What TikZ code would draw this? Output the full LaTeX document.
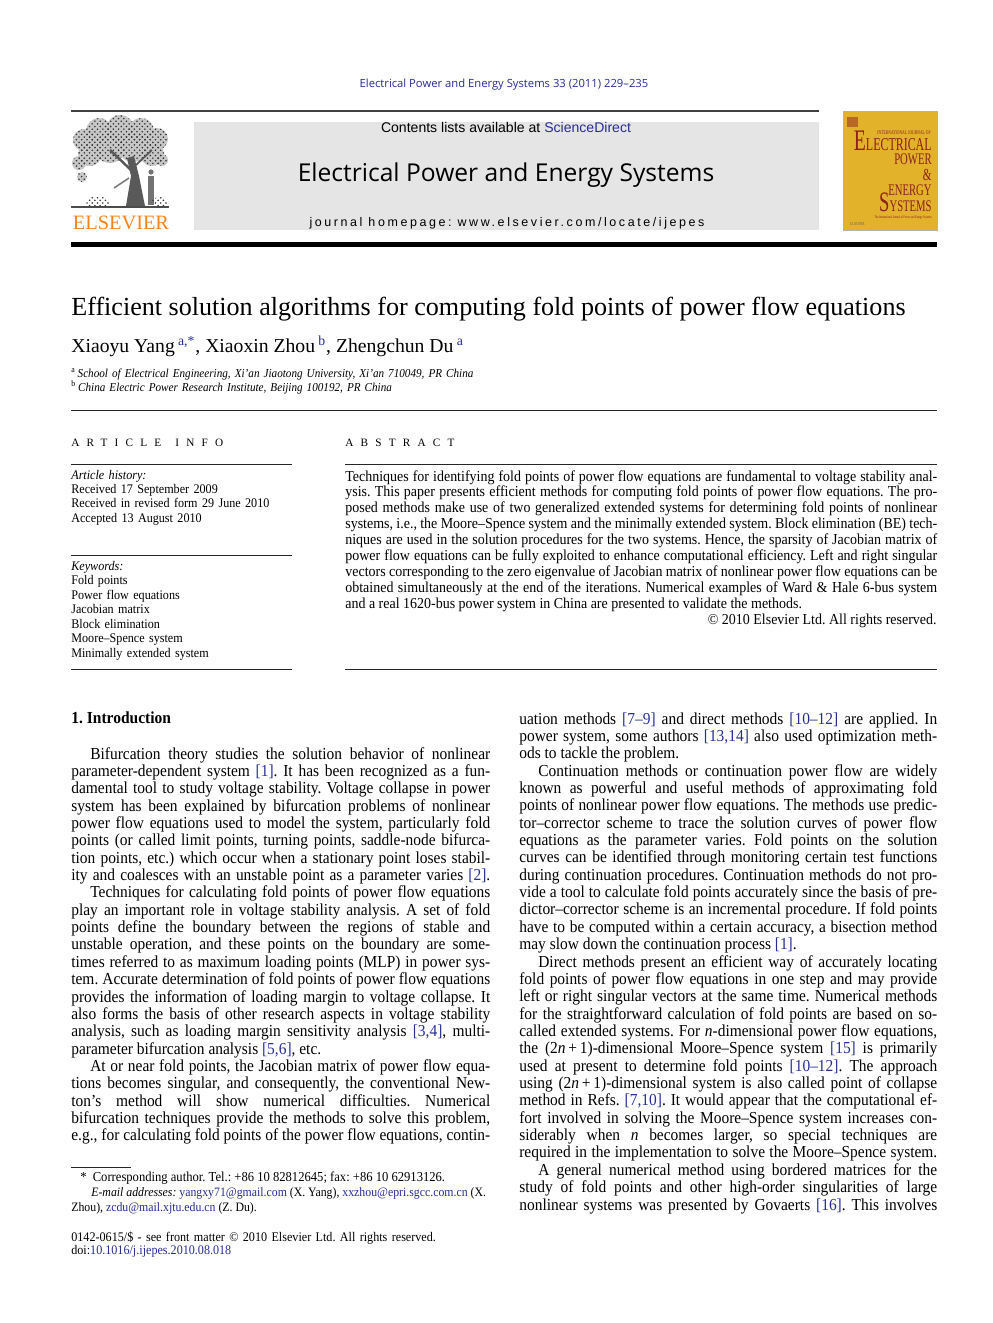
\documentclass[tikz,border=0pt]{standalone}
\usepackage{fontspec}
\setmainfont{Liberation Serif}
\newfontfamily\bodyfont[FakeStretch=0.92]{Liberation Serif}
\newfontfamily\coverfont[FakeStretch=0.66]{Liberation Serif}
\newfontfamily\spacedserif[LetterSpace=64]{Liberation Serif}
\newfontfamily\jsans{Open Sans}
\newfontfamily\hsans{Liberation Sans}
\newfontfamily\hsanswide[LetterSpace=20.7]{Liberation Sans}
\usetikzlibrary{patterns}

\definecolor{linkblue}{RGB}{40,45,150}
\definecolor{elsorange}{RGB}{243,132,30}
\definecolor{boxgray}{RGB}{229,229,229}
\definecolor{covergold}{RGB}{226,178,42}
\definecolor{coverred}{RGB}{140,32,28}

\newcommand\lnk[1]{\textcolor{linkblue}{#1}}
\newcommand\ind{\hspace*{10.8pt}}
\newcommand\fullpar{{\parfillskip=0pt\par}}
% more room to shrink the interword space in justified lines
\newcommand\shrinkspace{\fontdimen4\font=0.13em}

\tolerance=9999
\hyphenpenalty=10000
\exhyphenpenalty=10000
\frenchspacing

\begin{document}
\begin{tikzpicture}[x=0.02cm, y=-0.02cm,
	txt/.style={inner sep=0pt, anchor=base west},
	colbox/.style={txt, text width=#1, align=justify, font=\bodyfont\fontsize{9.55}{9.88}\selectfont\shrinkspace},
	infobox/.style={txt, text width=4.42cm, align=left, font=\bodyfont\fontsize{7.5}{8.22}\selectfont},
	thinrule/.style={line width=0.5pt, black!85},
	covertxt/.style={inner sep=0pt, anchor=base east, text=coverred}]
	
	\fill[white] (0,0) rectangle (992,1323);
	\useasboundingbox (0,0) rectangle (992,1323);
	
	% running head
	\node[inner sep=0pt, anchor=base, text=linkblue, font=\jsans\fontsize{6.4}{7}\selectfont] (runhead) at (504,87) {Electrical Power and Energy Systems 33 (2011) 229–235};
	\draw[line width=0.6pt, black!75] (71,111) -- (819,111);
	
	% elsevier tree
	\foreach \cx/\cy/\r in {84/140/11, 99/131/13, 120/129/14, 141/131/13, 157/139/11, 90/154/12, 152/154/12, 110/148/15, 133/147/15, 79/163/7, 82/177/5, 162/160/6}
		\fill[black!22] (\cx,\cy) circle [radius=\r];
	\foreach \cx/\cy/\r in {84/140/11, 99/131/13, 120/129/14, 141/131/13, 157/139/11, 90/154/12, 152/154/12, 110/148/15, 133/147/15, 79/163/7, 82/177/5, 162/160/6}
		\fill[pattern=crosshatch dots, pattern color=black!80] (\cx,\cy) circle [radius=\r];
	\fill[black!65] (126,206) -- (131,176) -- (127,158) -- (134,156) -- (139,176) -- (145,206) -- cycle;
	\draw[black!65, line width=1.4pt] (131,170) -- (110,150);
	\draw[black!65, line width=1pt] (136,165) -- (152,150);
	\draw[black!55, line width=0.8pt] (129,178) -- (114,188);
	\fill[black!55] (151,172) circle [radius=2.6];
	\fill[black!55] (148,176) rectangle (154,205);
	\fill[pattern=crosshatch dots, pattern color=black!80] (98,202) ellipse [x radius=12, y radius=6];
	\fill[pattern=crosshatch dots, pattern color=black!80] (160,202) ellipse [x radius=8, y radius=5];
	\fill[black!70] (71,206) rectangle (169,208);
	\node[txt, text=elsorange, font=\fontsize{11.6}{12}\selectfont] (elsevier) at (72.5,229.3) {ELSEVIER};
	
	% journal banner
	\fill[boxgray] (194,122) rectangle (819,230);
	\node[inner sep=0pt, anchor=base, font=\hsans\fontsize{8}{9}\selectfont] (contents) at (506,132.7) {Contents lists available at \lnk{ScienceDirect}};
	\node[inner sep=0pt, anchor=base, font=\jsans\fontsize{14}{16}\selectfont] (jname) at (506,181) {Electrical Power and Energy Systems};
	\node[inner sep=0pt, anchor=base, font=\hsanswide\fontsize{7.1}{8}\selectfont] (homepage) at (507,226) {journal homepage: www.elsevier.com/locate/ijepes};
	
	% cover
	\fill[covergold] (843,111) rectangle (937,230);
	\draw[black!30] (843,111) rectangle (937,230);
	\fill[coverred!50!covergold] (847,117) rectangle (858,127);
	\node[covertxt, font=\coverfont\fontsize{3.2}{4}\selectfont] (cintl) at (931,134) {INTERNATIONAL JOURNAL OF};
	\node[covertxt, font=\coverfont\fontsize{10.3}{11}\selectfont] (celec) at (932,150) {{\fontsize{17}{17}\selectfont E}LECTRICAL};
	\node[covertxt, font=\coverfont\fontsize{9.2}{10}\selectfont] (cpower) at (932,164) {POWER};
	\node[covertxt, font=\coverfont\fontsize{9.6}{10}\selectfont] (camp) at (932,180) {\&};
	\node[covertxt, font=\coverfont\fontsize{9.2}{10}\selectfont] (cenergy) at (932,195) {ENERGY};
	\node[covertxt, font=\coverfont\fontsize{9.2}{10}\selectfont] (csys) at (932,211) {{\fontsize{16}{16}\selectfont S}YSTEMS};
	\node[covertxt, font=\coverfont\fontsize{2.2}{3}\selectfont] (csub) at (932,218) {The International Journal of Power and Energy Systems};
	\node[txt, text=black!60, font=\coverfont\fontsize{2.6}{3}\selectfont] (cels) at (850,225) {ELSEVIER};
	
	\fill[black] (71,242) rectangle (937,247);
	
	% title block
	\node[txt, font=\fontsize{14.85}{17}\selectfont] (title) at (71,315) {Efficient solution algorithms for computing fold points of power flow equations};
	\node[txt, font=\fontsize{11.2}{13}\selectfont] (authors) at (71,352) {Xiaoyu Yang\,\textsuperscript{\lnk{a,*}}, Xiaoxin Zhou\,\textsuperscript{\lnk{b}}, Zhengchun Du\,\textsuperscript{\lnk{a}}};
	\node[txt, text width=12cm, align=left, font=\bodyfont\fontsize{6.9}{8.2}\selectfont] (affil) at (71,377.5) {\textsuperscript{a}\,\textit{School of Electrical Engineering, Xi’an Jiaotong University, Xi’an 710049, PR China}\\\textsuperscript{b}\,\textit{China Electric Power Research Institute, Beijing 100192, PR China}};
	\draw[thinrule] (71,410) -- (937,410);
	
	% article info
	\node[txt, font=\spacedserif\fontsize{6.4}{7}\selectfont] (infohead) at (71,446) {ARTICLE\hspace{8pt}INFO};
	\draw[thinrule] (71,464) -- (292,464);
	\node[infobox] (history) at (71,479) {\textit{Article history:}\\Received 17 September 2009\\Received in revised form 29 June 2010\\Accepted 13 August 2010};
	\draw[thinrule] (71,555) -- (292,555);
	\node[infobox] (keywords) at (71,570.5) {\textit{Keywords:}\\Fold points\\Power flow equations\\Jacobian matrix\\Block elimination\\Moore–Spence system\\Minimally extended system};
	\draw[thinrule] (71,669) -- (292,669);
	
	% abstract
	\node[txt, font=\spacedserif\fontsize{6.4}{7}\selectfont] (abshead) at (345,446) {ABSTRACT};
	\draw[thinrule] (345,464) -- (937,464);
	\node[txt, text width=11.84cm, align=justify, font=\bodyfont\fontsize{8.65}{9.07}\selectfont\shrinkspace] (abstract) at (345,481) {Techniques for identifying fold points of power flow equations are fundamental to voltage stability anal-\linebreak
		ysis. This paper presents efficient methods for computing fold points of power flow equations. The pro-\linebreak
		posed methods make use of two generalized extended systems for determining fold points of nonlinear\linebreak
		systems, i.e., the Moore–Spence system and the minimally extended system. Block elimination (BE) tech-\linebreak
		niques are used in the solution procedures for the two systems. Hence, the sparsity of Jacobian matrix of\linebreak
		power flow equations can be fully exploited to enhance computational efficiency. Left and right singular\linebreak
		vectors corresponding to the zero eigenvalue of Jacobian matrix of nonlinear power flow equations can be\linebreak
		obtained simultaneously at the end of the iterations. Numerical examples of Ward \& Hale 6-bus system\linebreak
		and a real 1620-bus power system in China are presented to validate the methods.};
	\node[txt, anchor=base east, font=\bodyfont\fontsize{8.65}{9.07}\selectfont] (copyr) at (937,624) {© 2010 Elsevier Ltd. All rights reserved.};
	\draw[thinrule] (345,669) -- (937,669);
	
	% left column
	\node[txt, font=\bodyfont\bfseries\fontsize{9.6}{10}\selectfont] (intro) at (71,723.5) {1. Introduction};
	\node[colbox=8.38cm] (leftcol) at (71,759) {\ind Bifurcation theory studies the solution behavior of nonlinear\linebreak
		parameter-dependent system \lnk{[1]}. It has been recognized as a fun-\linebreak
		damental tool to study voltage stability. Voltage collapse in power\linebreak
		system has been explained by bifurcation problems of nonlinear\linebreak
		power flow equations used to model the system, particularly fold\linebreak
		points (or called limit points, turning points, saddle-node bifurca-\linebreak
		tion points, etc.) which occur when a stationary point loses stabil-\linebreak
		ity and coalesces with an unstable point as a parameter varies \lnk{[2]}.\fullpar
		\ind Techniques for calculating fold points of power flow equations\linebreak
		play an important role in voltage stability analysis. A set of fold\linebreak
		points define the boundary between the regions of stable and\linebreak
		unstable operation, and these points on the boundary are some-\linebreak
		times referred to as maximum loading points (MLP) in power sys-\linebreak
		tem. Accurate determination of fold points of power flow equations\linebreak
		provides the information of loading margin to voltage collapse. It\linebreak
		also forms the basis of other research aspects in voltage stability\linebreak
		analysis, such as loading margin sensitivity analysis \lnk{[3,4]}, multi-\linebreak
		parameter bifurcation analysis \lnk{[5,6]}, etc.\par
		\ind At or near fold points, the Jacobian matrix of power flow equa-\linebreak
		tions becomes singular, and consequently, the conventional New-\linebreak
		ton’s method will show numerical difficulties. Numerical\linebreak
		bifurcation techniques provide the methods to solve this problem,\linebreak
		e.g., for calculating fold points of the power flow equations, contin-\fullpar};
	
	% right column
	\node[colbox=8.36cm] (rightcol) at (519,724) {uation methods \lnk{[7–9]} and direct methods \lnk{[10–12]} are applied. In\linebreak
		power system, some authors \lnk{[13,14]} also used optimization meth-\linebreak
		ods to tackle the problem.\par
		\ind Continuation methods or continuation power flow are widely\linebreak
		known as powerful and useful methods of approximating fold\linebreak
		points of nonlinear power flow equations. The methods use predic-\linebreak
		tor–corrector scheme to trace the solution curves of power flow\linebreak
		equations as the parameter varies. Fold points on the solution\linebreak
		curves can be identified through monitoring certain test functions\linebreak
		during continuation procedures. Continuation methods do not pro-\linebreak
		vide a tool to calculate fold points accurately since the basis of pre-\linebreak
		dictor–corrector scheme is an incremental procedure. If fold points\linebreak
		have to be computed within a certain accuracy, a bisection method\linebreak
		may slow down the continuation process \lnk{[1]}.\par
		\ind Direct methods present an efficient way of accurately locating\linebreak
		fold points of power flow equations in one step and may provide\linebreak
		left or right singular vectors at the same time. Numerical methods\linebreak
		for the straightforward calculation of fold points are based on so-\linebreak
		called extended systems. For \textit{n}-dimensional power flow equations,\linebreak
		the (2\textit{n}\,+\,1)-dimensional Moore–Spence system \lnk{[15]} is primarily\linebreak
		used at present to determine fold points \lnk{[10–12]}. The approach\linebreak
		using (2\textit{n}\,+\,1)-dimensional system is also called point of collapse\linebreak
		method in Refs. \lnk{[7,10]}. It would appear that the computational ef-\linebreak
		fort involved in solving the Moore–Spence system increases con-\linebreak
		siderably when \textit{n} becomes larger, so special techniques are\linebreak
		required in the implementation to solve the Moore–Spence system.\fullpar
		\ind A general numerical method using bordered matrices for the\linebreak
		study of fold points and other high-order singularities of large\linebreak
		nonlinear systems was presented by Govaerts \lnk{[16]}. This involves\fullpar};
	
	% footnotes
	\draw[thinrule] (71,1167) -- (131,1167);
	\node[txt, font=\bodyfont\fontsize{7.8}{8.5}\selectfont] (corresp) at (80,1181) {*\hspace{3.5pt}Corresponding author. Tel.: +86 10 82812645; fax: +86 10 62913126.};
	\node[txt, font=\bodyfont\fontsize{7.3}{8.5}\selectfont] (emails) at (91,1196) {\textit{E-mail addresses:} \lnk{yangxy71@gmail.com} (X. Yang), \lnk{xxzhou@epri.sgcc.com.cn} (X.};
	\node[txt, font=\bodyfont\fontsize{7.3}{8.5}\selectfont] (emails2) at (71,1211) {Zhou), \lnk{zcdu@mail.xjtu.edu.cn} (Z. Du).};
	\node[txt, text width=8.38cm, align=left, font=\bodyfont\fontsize{7.5}{7.94}\selectfont] (frontm) at (71,1241) {0142-0615/\$ - see front matter © 2010 Elsevier Ltd. All rights reserved.\\doi:\lnk{10.1016/j.ijepes.2010.08.018}};
	
\end{tikzpicture}
\end{document}
